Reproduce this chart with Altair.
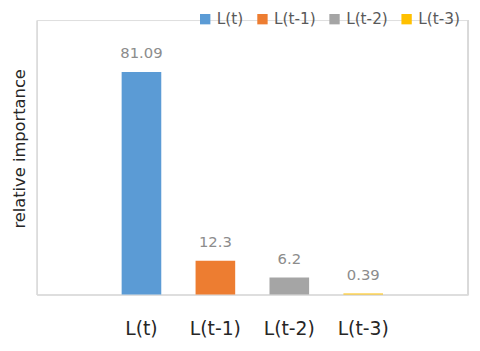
import altair as alt
import pandas as pd

categories = ["L(t)", "L(t-1)", "L(t-2)", "L(t-3)"]
values = [81.09, 12.3, 6.2, 0.39]
labels = ["81.09", "12.3", "6.2", "0.39"]
colors = ["#5B9BD5", "#ED7D31", "#A5A5A5", "#FFC000"]

df = pd.DataFrame({"cat": categories, "val": values, "lab": labels})

W, H = 437, 278
FONT = "DejaVu Sans"
x_domain = [" "] + categories + ["  "]

x_enc = alt.X(
    "cat:N",
    scale=alt.Scale(domain=x_domain, paddingInner=0.464, paddingOuter=0.15, round=False),
    axis=alt.Axis(
        title=None, ticks=False, domainColor="#D9D9D9", domainWidth=1.5,
        labelFontSize=19, labelColor="#262626", labelFont=FONT,
        labelPadding=26, labelAngle=0,
    ),
)
y_enc = alt.Y(
    "val:Q",
    scale=alt.Scale(domain=[0, 100]),
    axis=alt.Axis(
        title="relative importance", labels=False, ticks=False, grid=False,
        domainColor="#D9D9D9", domainWidth=1.5, titleFontSize=16.5,
        titleFont=FONT, titleFontWeight="normal", titleColor="#262626",
        titlePadding=9, titleY=130,
    ),
)

bars = alt.Chart(df).mark_bar().encode(
    x=x_enc,
    y=y_enc,
    color=alt.Color(
        "cat:N",
        scale=alt.Scale(domain=categories, range=colors),
        legend=alt.Legend(
            title=None, orient="none", direction="horizontal",
            legendX=163, legendY=-9, symbolType="square", symbolSize=110,
            symbolStrokeWidth=0, labelFontSize=15.5, labelFont=FONT,
            labelColor="#595959", columnPadding=11, labelOffset=4,
        ),
    ),
)

text = alt.Chart(df).mark_text(
    dy=-14, baseline="alphabetic", fontSize=15, font=FONT, color="#8C8C8C"
).encode(x=alt.X("cat:N"), y="val:Q", text="lab:N")

right_line = alt.Chart(df).mark_rule(color="#D9D9D9", strokeWidth=1.5).encode(
    x=alt.value(W), y=alt.value(0), y2=alt.value(H)
)

chart = (
    alt.layer(bars, text, right_line)
    .properties(
        width=W, height=H, autosize=alt.AutoSizeParams(type="none"),
        padding={"left": 29, "top": 10, "right": 4, "bottom": 52},
    )
    .configure_view(stroke=None)
    .configure(background="white")
)

chart.save("out.html", embed_options={"renderer": "svg", "actions": False})
